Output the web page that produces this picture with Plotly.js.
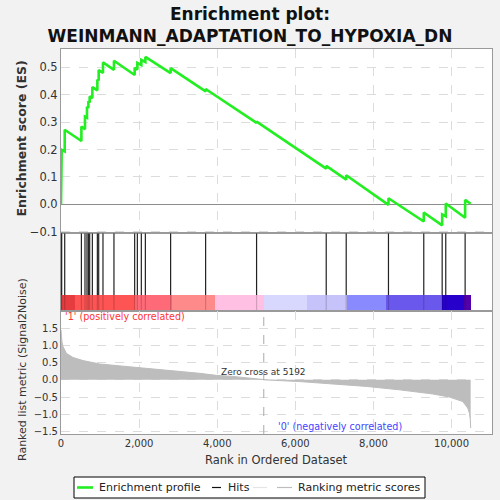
<!DOCTYPE html>
<html>
<head>
<meta charset="utf-8">
<script src="https://cdn.plot.ly/plotly-3.0.1.min.js"></script>
<style>
  html, body { margin: 0; padding: 0; background: #f2f2f2; }
  #plot { width: 500px; height: 500px; }
</style>
</head>
<body>
<div id="plot"></div>
<script>
const TITLE = "Enrichment plot:<br>WEINMANN_ADAPTATION_TO_HYPOXIA_DN";
const N_GENES = 10490;
const ZERO_CROSS = 5192;

// gene set hits (rank) with the running ES just before and after each hit
const hitRanks = [3, 18, 95, 522, 614, 665, 701, 734, 803, 931, 965, 1075, 1356, 1886, 1955, 2057, 2160, 2807, 3703, 5008, 6791, 7303, 8385, 9289, 9760, 9852, 10348];
const esBefore = [0.0, 0.099, 0.193, 0.231, 0.274, 0.316, 0.352, 0.372, 0.388, 0.416, 0.452, 0.480, 0.491, 0.472, 0.492, 0.508, 0.519, 0.479, 0.412, 0.297, 0.130, 0.090, -0.002, -0.063, -0.077, -0.044, -0.049];
const esAfter = [0.100, 0.199, 0.272, 0.284, 0.320, 0.356, 0.376, 0.394, 0.428, 0.455, 0.490, 0.518, 0.524, 0.498, 0.516, 0.527, 0.538, 0.497, 0.421, 0.302, 0.140, 0.106, 0.022, -0.030, -0.037, 0.003, 0.016];
const esEnd = 0.002;

// ranked list metric (Signal2Noise)
const metricRanks = [0, 10, 25, 51, 137, 307, 563, 990, 1843, 2696, 3550, 3976, 4400, 5170, 5192, 6108, 6960, 7815, 8667, 9520, 9946, 10287, 10415, 10458, 10480, 10490];
const metricValues = [1.45, 1.25, 1.10, 0.97, 0.77, 0.65, 0.56, 0.46, 0.37, 0.29, 0.19, 0.13, 0.10, 0.01, 0.0, -0.05, -0.12, -0.19, -0.29, -0.41, -0.50, -0.63, -0.82, -0.97, -1.15, -1.40];

// colour strip under the hits
const stripBounds = [0, 350, 1886, 2833, 3933, 5187, 6287, 7311, 8334, 9767, 10330, 10490];
const stripColors = ["#e63c3f", "#ff5454", "#ff6a78", "#ff8a8a", "#ffc0e3", "#d8d8ff", "#c6c2fa", "#8a8aff", "#6a58ec", "#2800cc", "#5200aa"];

const xTicks = [0, 2000, 4000, 6000, 8000, 10000];
const esTicks = [-0.1, 0.0, 0.1, 0.2, 0.3, 0.4, 0.5];
const metricTicks = [-1.5, -1.0, -0.5, 0.0, 0.5, 1.0, 1.5];

// legend entries: label and swatch colour
const legendLabels = ["Enrichment profile", "Hits", "", "Ranking metric scores"];
const legendColors = ["#22ee22", "#111111", "#e4e4e4", "#bdbdbd"];

const X_RANGE = [0, 11036];
const FONT = "DejaVu Sans";
const GRID = "#dcdcdc";
const BORDER = "#9a9a9a";

// plot area in pixels, used to place the legend box under the chart
const PLOT_L = 61;
const PLOT_W = 431;
const PLOT_B = 434;
const PLOT_H = 385;
const px = (x) => (x - PLOT_L) / PLOT_W;
const py = (y) => (PLOT_B - y) / PLOT_H;

const buildEsCurve = () => {
  const x = [0];
  const y = [0];
  hitRanks.forEach((rank, i) => {
    x.push(rank, rank);
    y.push(esBefore[i], esAfter[i]);
  });
  x.push(N_GENES);
  y.push(esEnd);
  return { x, y };
};

const buildHits = (y0, y1) => {
  const x = [];
  const y = [];
  hitRanks.forEach((rank) => {
    x.push(rank, rank, null);
    y.push(y0, y1, null);
  });
  return { x, y };
};

const es = buildEsCurve();
const hitsTop = buildHits(0.206, 1);
const hitsStrip = buildHits(0, 0.206);

const stripMid = stripColors.map((_, i) => (stripBounds[i] + stripBounds[i + 1]) / 2);
const stripWidth = stripColors.map((_, i) => stripBounds[i + 1] - stripBounds[i]);

const data = [
  {
    x: stripMid,
    y: stripColors.map(() => 0.206),
    width: stripWidth,
    type: "bar",
    xaxis: "x2",
    yaxis: "y2",
    marker: { color: stripColors, line: { width: 0 } },
    hoverinfo: "skip"
  },
  {
    x: hitsStrip.x,
    y: hitsStrip.y,
    type: "scatter",
    mode: "lines",
    xaxis: "x2",
    yaxis: "y2",
    line: { color: "rgba(0,0,0,0.18)", width: 1.2 },
    hoverinfo: "skip"
  },
  {
    x: es.x,
    y: es.y,
    type: "scatter",
    mode: "lines",
    xaxis: "x",
    yaxis: "y",
    line: { color: "#22ee22", width: 2.6 },
    name: "Enrichment profile",
    hoverinfo: "skip"
  },
  {
    x: hitsTop.x,
    y: hitsTop.y,
    type: "scatter",
    mode: "lines",
    xaxis: "x2",
    yaxis: "y2",
    line: { color: "#222222", width: 1.2 },
    name: "Hits",
    hoverinfo: "skip"
  },
  {
    x: metricRanks,
    y: metricValues,
    type: "scatter",
    mode: "lines",
    xaxis: "x3",
    yaxis: "y3",
    fill: "tozeroy",
    fillcolor: "#bdbdbd",
    line: { color: "#bdbdbd", width: 1 },
    name: "Ranking metric scores",
    hoverinfo: "skip"
  }
];

const axisBase = {
  range: X_RANGE,
  showline: true,
  mirror: true,
  linecolor: BORDER,
  linewidth: 1,
  zeroline: false,
  ticks: "",
  fixedrange: true
};

// hand-drawn legend box, swatches and labels (paper coords from pixels)
const legendSwatchX = [[77, 93], [212, 221], [253, 267], [277, 292]];
const legendTextX = [97, 226, 268, 296];
const legendY = 487.5;

const legendShapes = [
  {
    type: "rect",
    xref: "paper",
    yref: "paper",
    x0: px(74),
    x1: px(425),
    y0: py(477),
    y1: py(498),
    fillcolor: "#ffffff",
    line: { color: "#000000", width: 1 }
  }
].concat(legendColors.map((color, i) => ({
  type: "line",
  xref: "paper",
  yref: "paper",
  x0: px(legendSwatchX[i][0]),
  x1: px(legendSwatchX[i][1]),
  y0: py(legendY),
  y1: py(legendY),
  line: { color, width: i === 0 ? 2.6 : 1.2 }
})));

const legendAnnotations = legendLabels.filter((label) => label).map((label) => {
  const i = legendLabels.indexOf(label);
  return {
    text: label,
    xref: "paper",
    yref: "paper",
    x: px(legendTextX[i]),
    y: py(legendY),
    xanchor: "left",
    yanchor: "middle",
    showarrow: false,
    font: { family: FONT, size: 11, color: "#222222" }
  };
});

const layout = {
  width: 500,
  height: 500,
  margin: { t: 49, r: 8, b: 66, l: 61 },
  paper_bgcolor: "#f2f2f2",
  plot_bgcolor: "#ffffff",
  font: { family: FONT, color: "#333333" },
  title: {
    text: "<b>" + TITLE + "</b>",
    font: { family: FONT, size: 17, color: "#111111" },
    x: 0.5,
    xanchor: "center",
    y: 0.961,
    yanchor: "middle"
  },
  bargap: 0,
  showlegend: false,
  xaxis: Object.assign({}, axisBase, {
    anchor: "y",
    showticklabels: false,
    tickvals: xTicks,
    showgrid: true,
    gridcolor: GRID,
    griddash: "dash"
  }),
  yaxis: {
    domain: [0.5213, 1],
    range: [-0.106, 0.567],
    tickvals: esTicks,
    tickformat: ".1f",
    tickfont: { family: FONT, size: 11.5, color: "#333333" },
    showgrid: true,
    gridcolor: GRID,
    griddash: "dash",
    zeroline: true,
    zerolinecolor: "#8c8c8c",
    zerolinewidth: 1,
    showline: true,
    mirror: true,
    linecolor: BORDER,
    ticks: "",
    fixedrange: true
  },
  xaxis2: Object.assign({}, axisBase, {
    anchor: "y2",
    showticklabels: false,
    showgrid: false
  }),
  yaxis2: {
    domain: [0.3195, 0.5213],
    range: [0, 1],
    showticklabels: false,
    showgrid: false,
    zeroline: false,
    showline: true,
    mirror: true,
    linecolor: BORDER,
    ticks: "",
    fixedrange: true
  },
  xaxis3: Object.assign({}, axisBase, {
    anchor: "y3",
    tickvals: xTicks,
    tickformat: ",",
    tickfont: { family: FONT, size: 10, color: "#333333" },
    showgrid: true,
    gridcolor: GRID,
    griddash: "dash"
  }),
  yaxis3: {
    domain: [0, 0.3195],
    range: [-1.573, 2.0],
    tickvals: metricTicks,
    tickformat: ".1f",
    tickfont: { family: FONT, size: 10, color: "#333333" },
    showgrid: true,
    gridcolor: GRID,
    griddash: "dash",
    zeroline: false,
    showline: true,
    mirror: true,
    linecolor: BORDER,
    ticks: "",
    fixedrange: true
  },
  shapes: [
    {
      type: "line",
      xref: "x3",
      yref: "y3 domain",
      x0: ZERO_CROSS,
      x1: ZERO_CROSS,
      y0: 0,
      y1: 1,
      line: { color: "#aaaaaa", width: 1, dash: "dash" }
    }
  ].concat(legendShapes),
  annotations: [
    {
      text: "<b>Enrichment score (ES)</b>",
      xref: "paper",
      yref: "paper",
      x: px(20.5),
      y: py(139),
      xanchor: "center",
      yanchor: "middle",
      textangle: -90,
      showarrow: false,
      font: { family: FONT, size: 12.5, color: "#333333" }
    },
    {
      text: "Ranked list metric (Signal2Noise)",
      xref: "paper",
      yref: "paper",
      x: px(22),
      y: py(370),
      xanchor: "center",
      yanchor: "middle",
      textangle: -90,
      showarrow: false,
      font: { family: FONT, size: 11, color: "#333333" }
    },
    {
      text: "Rank in Ordered Dataset",
      xref: "paper",
      yref: "paper",
      x: 0.5,
      y: py(460),
      xanchor: "center",
      yanchor: "middle",
      showarrow: false,
      font: { family: FONT, size: 11.5, color: "#333333" }
    },
    {
      text: "'1' (positively correlated)",
      xref: "x3",
      yref: "y3",
      x: 51,
      y: 1.83,
      xanchor: "left",
      yanchor: "middle",
      showarrow: false,
      font: { family: FONT, size: 9.6, color: "#ff3333" }
    },
    {
      text: "Zero cross at " + ZERO_CROSS,
      xref: "x3",
      yref: "y3",
      x: 5174,
      y: 0.22,
      xanchor: "center",
      yanchor: "middle",
      showarrow: false,
      font: { family: FONT, size: 9, color: "#333333" }
    },
    {
      text: "'0' (negatively correlated)",
      xref: "x3",
      yref: "y3",
      x: 5512,
      y: -1.35,
      xanchor: "left",
      yanchor: "middle",
      showarrow: false,
      font: { family: FONT, size: 9.6, color: "#4444ff" }
    }
  ].concat(legendAnnotations)
};

Plotly.newPlot("plot", data, layout, { displayModeBar: false, staticPlot: true });
</script>
</body>
</html>
